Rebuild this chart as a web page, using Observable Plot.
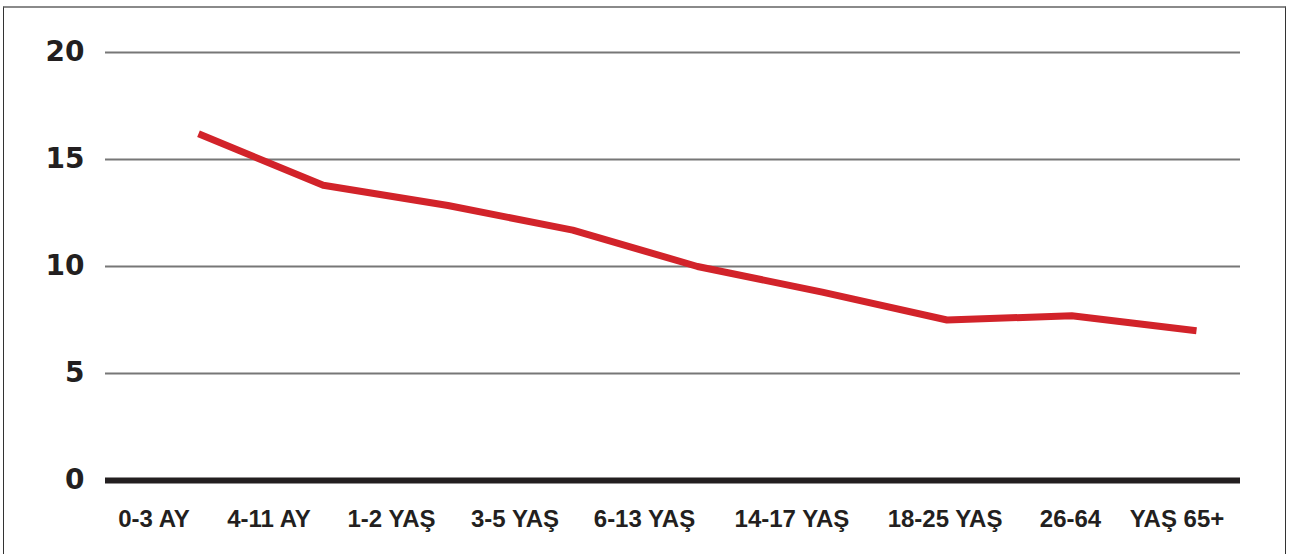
<!DOCTYPE html>
<html>
<head>
<meta charset="utf-8">
<script src="https://cdn.jsdelivr.net/npm/d3@7"></script>
<script src="https://cdn.jsdelivr.net/npm/@observablehq/plot@0.6"></script>
<style>
  html, body { margin: 0; padding: 0; background: #fff; }
  #wrap { position: relative; width: 1294px; height: 554px; overflow: hidden; }
  #border { position: absolute; left: 3px; top: 6px; width: 1281px; height: 600px;
            border-top: 2px solid #8a8a8a; border-left: 1.5px solid #333; border-right: 1.5px solid #333; }
  #chart { position: absolute; left: 0; top: 0; }
</style>
</head>
<body>
<div id="wrap"><div id="border"></div><div id="chart"></div></div>
<script>
// Categories (age groups) and values
const categories = ["0-3 AY", "4-11 AY", "1-2 YAŞ", "3-5 YAŞ", "6-13 YAŞ", "14-17 YAŞ", "18-25 YAŞ", "26-64", "YAŞ 65+"];
const values = [16.2, 13.8, 12.85, 11.7, 10.0, 8.8, 7.5, 7.7, 7.0];
// Tick label positions along the x axis (in data-index units) as laid out in the original
const tickPos = [-0.357, 0.565, 1.547, 2.537, 3.575, 4.757, 5.984, 6.99, 7.844];
const yTicks = [0, 5, 10, 15, 20];

const data = values.map((v, i) => ({i, v, cat: categories[i]}));
const labelMap = new Map(tickPos.map((p, i) => [p, categories[i]]));

const chart = Plot.plot({
  width: 1294,
  height: 554,
  marginLeft: 105,
  marginRight: 54,
  marginTop: 52,
  marginBottom: 74,
  style: {background: "transparent", overflow: "visible"},
  x: {domain: [-0.7455, 8.3527], axis: null, label: null},
  y: {domain: [0, 20], axis: null, label: null},
  marks: [
    Plot.ruleY(yTicks.filter(d => d > 0), {stroke: "#777", strokeWidth: 2}),
    Plot.ruleY([0], {stroke: "#231f20", strokeWidth: 6}),
    Plot.axisY(yTicks, {
      anchor: "left", tickSize: 0, tickPadding: 21, label: null,
      fontFamily: "DejaVu Sans", fontWeight: "bold", fontSize: 28, fill: "#231f20",
      stroke: "#231f20", strokeWidth: 0.8
    }),
    Plot.axisX(tickPos, {
      anchor: "bottom", tickSize: 0, tickPadding: 29, label: null,
      tickFormat: d => labelMap.get(d),
      fontFamily: "Liberation Sans", fontWeight: "bold", fontSize: 24, fill: "#231f20",
      stroke: "#231f20", strokeWidth: 0.6
    }),
    Plot.lineY(data, {x: "i", y: "v", stroke: "#d2232a", strokeWidth: 7, strokeLinejoin: "round", strokeLinecap: "butt"})
  ]
});
document.getElementById("chart").appendChild(chart);
</script>
</body>
</html>
